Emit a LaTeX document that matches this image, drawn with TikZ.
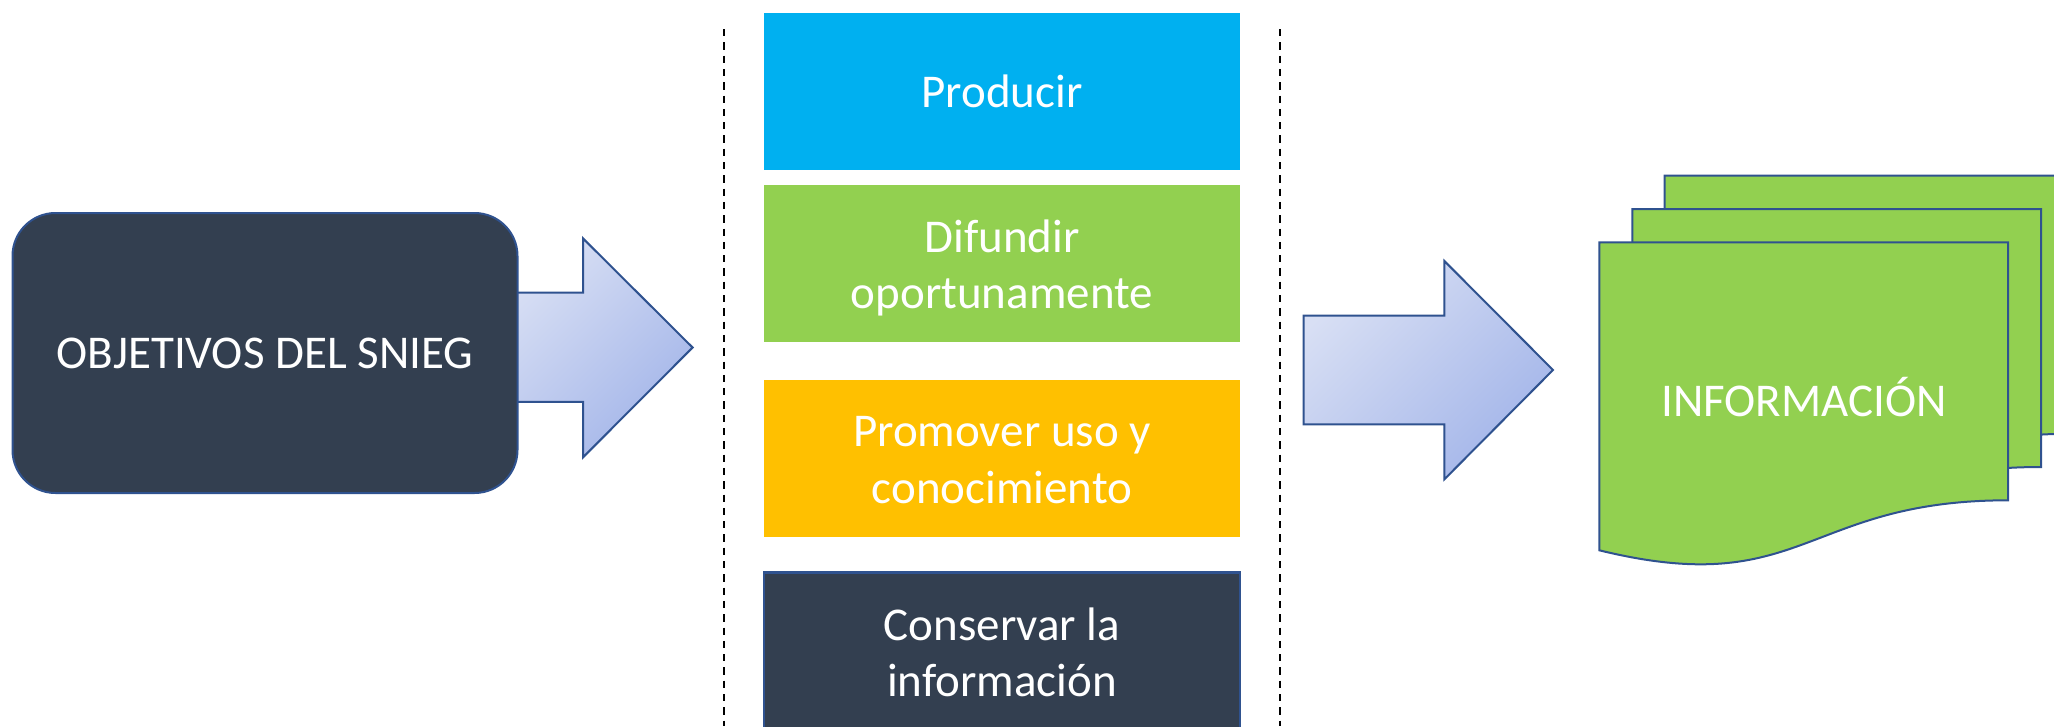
\documentclass[tikz,border=0pt]{standalone}
\usepackage{fontspec}
\setmainfont{Carlito}
\definecolor{darkbox}{HTML}{333F50}
\definecolor{edgeblue}{HTML}{2F528F}
\definecolor{cblue}{HTML}{00B0F0}
\definecolor{cgreen}{HTML}{92D050}
\definecolor{cyellow}{HTML}{FFC000}
\definecolor{arrowL}{HTML}{D8DFF4}
\definecolor{arrowD}{HTML}{A3B5E9}
\tikzset{
  txt/.style={text=white, font=\fontsize{47}{56.5}\selectfont, align=center},
  block/.style={minimum width=476pt, minimum height=157pt, inner sep=0pt, outer sep=0pt},
  edge/.style={draw=edgeblue, line width=2pt},
  barrow/.style={edge, line join=miter, top color=arrowL, bottom color=arrowD, shading angle=45},
  sep/.style={draw=black, line width=2pt, dash pattern=on 7.3pt off 6pt},
  doc/.style={edge, fill=cgreen},
  docshape/.pic={\path[doc] (0,0) -- (408.7,0) -- (408.7,258)
     .. controls (204.35,258) and (204.35,358) .. (0,308) -- cycle;}
}
\begin{document}
\begin{tikzpicture}[x=1pt,y=-1pt]
\path[use as bounding box] (0,0) rectangle (2054,726);
\clip (0,0) rectangle (2054,726);

% separators
\coordinate (s1a) at (724,29); \coordinate (s1b) at (724,726);
\coordinate (s2a) at (1280,29); \coordinate (s2b) at (1280,726);
\draw[sep] (s1a) -- (s1b);
\draw[sep] (s2a) -- (s2b);

% left arrow
\path[barrow] (505,292.6) -- (583,292.6) -- (583,238.4) -- (692.6,347.5)
   -- (583,457.4) -- (583,401.9) -- (505,401.9) -- cycle;

% left box
\node[edge, fill=darkbox, rounded corners=43pt, minimum width=505pt, minimum height=280pt,
      inner sep=0pt, txt] (obj) at (265,353) {OBJETIVOS DEL SNIEG};

% centre column
\node[block, fill=cblue] (prod) at (1002,91) {};
\node[txt] (prodtxt) at (prod.center) {Producir};
\node[block, fill=cgreen] (dif) at (1002,263.8) {};
\node[txt] (diftxt) at ([yshift=-4pt]dif.center) {Difundir\\oportunamente};
\node[block, fill=cyellow] (prom) at (1002,458.3) {};
\node[txt] (promtxt) at ([yshift=-2pt]prom.center) {Promover uso y\\conocimiento};
\node[block, fill=darkbox, edge, line width=2.5pt] (cons) at (1002,651) {};
\node[txt] (constxt) at ([yshift=-1.5pt]cons.center) {Conservar la\\información};

% right arrow
\path[barrow] (1303.7,315.7) -- (1444.4,315.7) -- (1444.4,261) -- (1553,370)
   -- (1444.4,479.3) -- (1444.4,424.3) -- (1303.7,424.3) -- cycle;

% documents
\pic at (1664.5,175.7) {docshape};
\pic at (1632.4,209) {docshape};
\pic at (1599.3,242.3) {docshape};
\node[txt] (info) at (1804,397) {INFORMACIÓN};
\end{tikzpicture}
\end{document}
